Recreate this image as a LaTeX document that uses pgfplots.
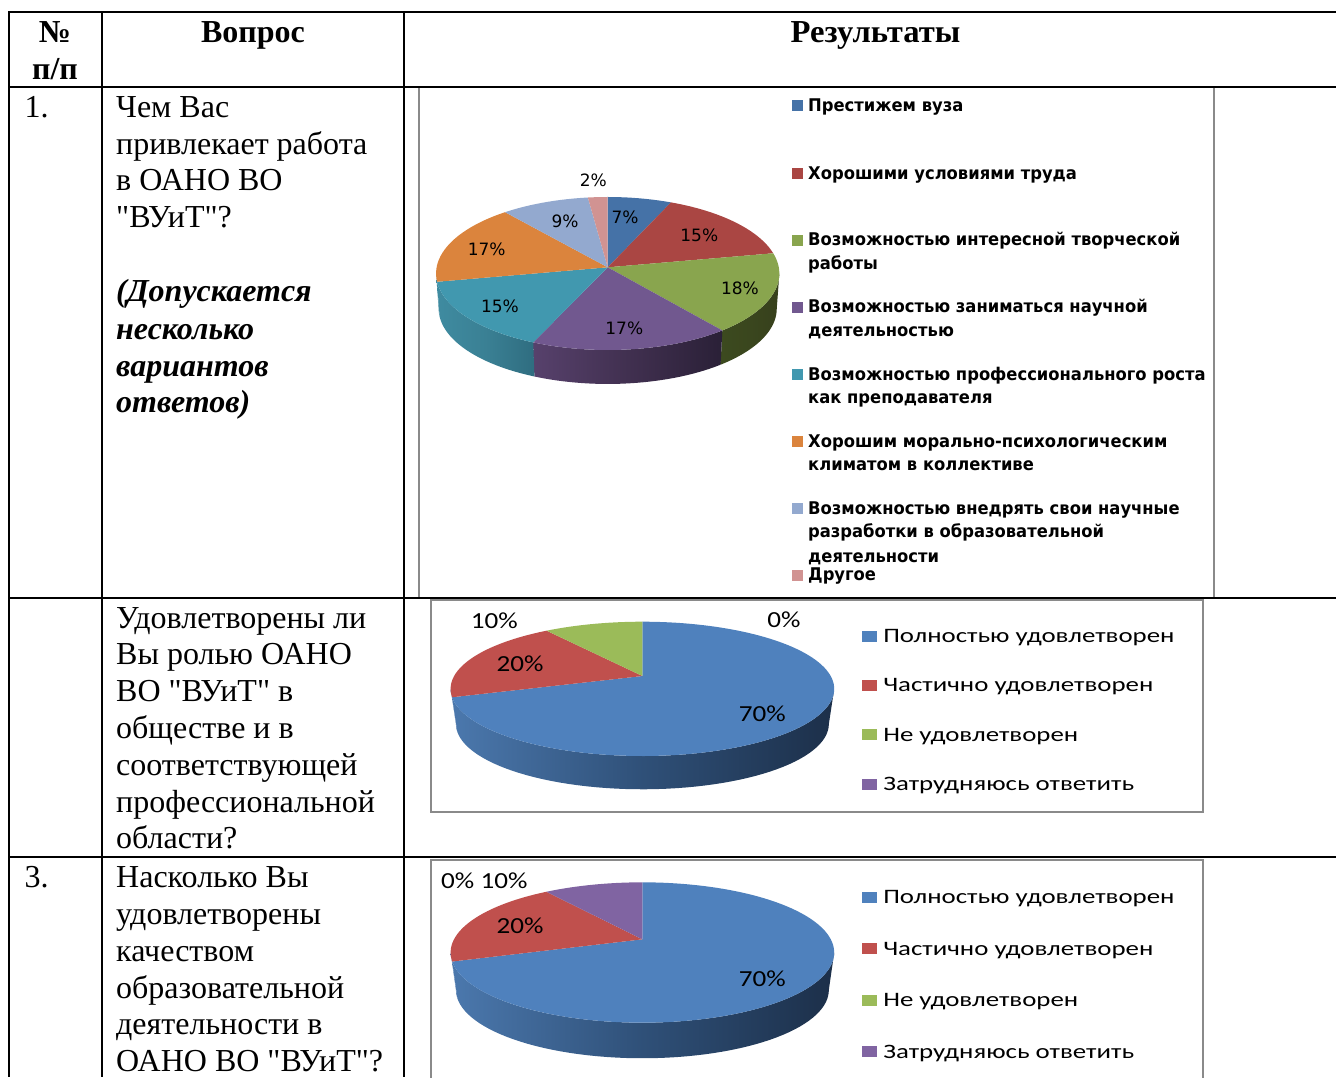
\documentclass[border=0pt]{standalone}
\usepackage{fontspec}
\usepackage{pgfplots}
\pgfplotsset{compat=1.18}
\setmainfont{Liberation Serif}[Ligatures=TeXOff]
\newfontfamily\lgA{DejaVu Sans}
\newfontfamily\lgB{Carlito}
% colours
\definecolor{a1}{HTML}{4572A7}\definecolor{a2}{HTML}{AA4643}\definecolor{a3}{HTML}{89A54E}
\definecolor{a4}{HTML}{71588F}\definecolor{a5}{HTML}{4198AF}\definecolor{a6}{HTML}{DB843D}
\definecolor{a7}{HTML}{93A9CF}\definecolor{a8}{HTML}{D19392}
\definecolor{b1}{HTML}{4F81BD}\definecolor{b2}{HTML}{C0504D}\definecolor{b3}{HTML}{9BBB59}\definecolor{b4}{HTML}{8064A2}
\definecolor{wgL}{HTML}{3C4A1F}\definecolor{wgM}{HTML}{3A461E}\definecolor{wgR}{HTML}{37401C}
\definecolor{wpL}{HTML}{57416C}\definecolor{wpM}{HTML}{413050}\definecolor{wpR}{HTML}{2A2037}
\definecolor{wtL}{HTML}{3F8BA0}\definecolor{wtM}{HTML}{3A8094}\definecolor{wtR}{HTML}{2F6D80}
\definecolor{wbL}{HTML}{4B78AD}\definecolor{wbM}{HTML}{2F5078}\definecolor{wbR}{HTML}{1C2F49}
\definecolor{frameg}{HTML}{8A8A8A}
% pie geometry: a flat disc in perspective, then the data decide the sectors
\newcommand\pieset[7]{\gdef\pcx{#1}\gdef\pcy{#2}\gdef\pa{#3}\gdef\pb{#4}\gdef\pk{#5}\gdef\pd{#6}\gdef\ps{#7}}
\newcommand\rimxy[1]{%
  \pgfmathsetmacro\PTh{(#1)*3.6}%
  \pgfmathsetmacro\PW{1+\pk*cos(\PTh)}%
  \pgfmathsetmacro\PDx{\pb*sin(\PTh)/\PW}%
  \pgfmathsetmacro\PDy{-\pa*cos(\PTh)/\PW}%
}
\newcommand\pieface[3]{%
  \xdef\clist{(\pcx,\pcy)}%
  \pgfmathtruncatemacro\PN{max(1,ceil(((#3)-(#2))/0.7))}%
  \foreach \ii in {0,...,\PN}{%
    \pgfmathsetmacro\PP{(#2)+((#3)-(#2))*\ii/\PN}%
    \rimxy{\PP}%
    \pgfmathsetmacro\PX{\pcx+\PDx}\pgfmathsetmacro\PY{\pcy+\PDy}%
    \xdef\clist{\clist (\PX,\PY)}%
  }%
  \edef\tmp{\noexpand\addplot[fill=#1,draw=none,forget plot,mark=none,sharp plot] coordinates {\clist};}\tmp
}
\newcommand\piewall[5]{%
  \pgfmathsetmacro\PLo{max(#4,acos(-\pk)/3.6)}%
  \pgfmathsetmacro\PHi{min(#5,100-acos(-\pk)/3.6)}%
  \pgfmathtruncatemacro\POk{\PLo<\PHi ? 1 : 0}%
  \ifnum\POk=1
    \xdef\clist{}%
    \pgfmathtruncatemacro\PN{max(1,ceil((\PHi-\PLo)/0.7))}%
    \foreach \ii in {0,...,\PN}{%
      \pgfmathsetmacro\PP{\PLo+(\PHi-\PLo)*\ii/\PN}%
      \rimxy{\PP}%
      \pgfmathsetmacro\PX{\pcx+\PDx}\pgfmathsetmacro\PY{\pcy+\PDy}%
      \xdef\clist{\clist (\PX,\PY)}%
    }%
    \foreach \ii in {\PN,...,0}{%
      \pgfmathsetmacro\PP{\PLo+(\PHi-\PLo)*\ii/\PN}%
      \rimxy{\PP}%
      \pgfmathsetmacro\PX{\pcx+\ps*\PDx}\pgfmathsetmacro\PY{\pcy+\pd+\ps*\PDy}%
      \xdef\clist{\clist (\PX,\PY)}%
    }%
    \edef\tmp{\noexpand\addplot[left color=#1,right color=#3,middle color=#2,draw=none,forget plot,mark=none,sharp plot] coordinates {\clist};}\tmp
  \fi
}
% list items: share / face colour / wall colours left, middle, right
\newcommand\drawpie[1]{%
  \gdef\cum{0}%
  \foreach \Va/\Fc/\Wa/\Wb/\Wc in {#1}{%
    \pgfmathsetmacro\nxt{\cum+\Va}%
    \piewall{\Wa}{\Wb}{\Wc}{\cum}{\nxt}%
    \xdef\cum{\nxt}%
  }%
  \gdef\cum{0}%
  \foreach \Va/\Fc/\Wa/\Wb/\Wc in {#1}{%
    \pgfmathsetmacro\nxt{\cum+\Va}%
    \pgfmathtruncatemacro\POs{\Va>0 ? 1 : 0}%
    \ifnum\POs=1 \pieface{\Fc}{\cum}{\nxt}\fi
    \xdef\cum{\nxt}%
  }%
}
\tikzset{
  body/.style={anchor=base west,inner sep=0pt,font=\fontsize{32}{37}\selectfont},
  bodyi/.style={anchor=base west,inner sep=0pt,font=\fontsize{32}{37}\selectfont\bfseries\itshape},
  head/.style={anchor=base,inner sep=0pt,font=\fontsize{32}{37}\selectfont\bfseries},
  leg1/.style={anchor=base west,inner sep=0pt,xscale=0.935,font=\lgA\bfseries\fontsize{17.5}{20}\selectfont},
  leg2/.style={anchor=base west,inner sep=0pt,xscale=1.31,font=\lgB\fontsize{20.5}{24}\selectfont},
  lab1/.style={anchor=center,inner sep=0pt,font=\lgA\fontsize{17}{20}\selectfont},
  lab2/.style={anchor=center,inner sep=0pt,xscale=1.18,font=\lgB\fontsize{23}{26}\selectfont},
}
\newcommand\lm[3]{\addplot[fill=#3,draw=none,forget plot,mark=none] coordinates {(#1,#2-5.5) (#1+11.5,#2-5.5) (#1+11.5,#2+5.5) (#1,#2+5.5)};}
\newcommand\lmb[3]{\addplot[fill=#3,draw=none,forget plot,mark=none] coordinates {(#1,#2-5.5) (#1+14.5,#2-5.5) (#1+14.5,#2+5.5) (#1,#2+5.5)};}
\begin{document}
\begin{tikzpicture}
\useasboundingbox (0,0) rectangle (1336pt,1077pt);
\begin{axis}[
  at={(0,0)},anchor=south west,
  scale only axis,width=1336pt,height=1077pt,
  xmin=0,xmax=1336,ymin=0,ymax=1077,y dir=reverse,
  axis lines=none,ticks=none,clip=true]
% chart frames
\draw[frameg,line width=2pt] (axis cs:419,87)--(axis cs:419,598);
\draw[frameg,line width=2pt] (axis cs:1214,87)--(axis cs:1214,598);
\draw[frameg,line width=2pt] (axis cs:430.5,600)--(axis cs:1203,600)--(axis cs:1203,811.5)--(axis cs:430.5,811.5)--cycle;
\draw[frameg,line width=2pt] (axis cs:430.5,1080)--(axis cs:430.5,859.5)--(axis cs:1203,859.5)--(axis cs:1203,1080);
% pie 1
\pieset{607.7}{267.3}{76}{171.1}{0.0809}{35.2}{0.985}
\drawpie{6.5/a1/a1/a1/a1,15.5/a2/a2/a2/a2,17.2/a3/wgL/wgM/wgR,17.4/a4/wpL/wpM/wpR,15.4/a5/wtL/wtM/wtR,17/a6/wtL/wtL/wtL,9/a7/a7/a7/a7,2/a8/a8/a8/a8}
% pie 2
\pieset{642.4}{676}{64.7}{188.3}{0.1913}{35.5}{0.972}
\drawpie{70/b1/wbL/wbM/wbR,20/b2/wbL/wbL/wbL,10/b3/b3/b3/b3,0/b4/b4/b4/b4}
% pie 3
\pieset{642.4}{939.3}{67.7}{188.4}{0.188}{37.9}{0.972}
\drawpie{70/b1/wbL/wbM/wbR,20/b2/wbL/wbL/wbL,0/b3/b3/b3/b3,10/b4/b4/b4/b4}
% pie labels
\node[lab1] at (axis cs:625,217.7) {7\%};
\node[lab1] at (axis cs:699.3,235) {15\%};
\node[lab1] at (axis cs:740,288.3) {18\%};
\node[lab1] at (axis cs:624.3,328.3) {17\%};
\node[lab1] at (axis cs:500,306.7) {15\%};
\node[lab1] at (axis cs:486.7,249.3) {17\%};
\node[lab1] at (axis cs:565,221.7) {9\%};
\node[lab1] at (axis cs:593.3,180.7) {2\%};
\node[lab2] at (axis cs:762.3,714) {70\%};
\node[lab2] at (axis cs:520,663.5) {20\%};
\node[lab2] at (axis cs:494.3,620.7) {10\%};
\node[lab2] at (axis cs:784,620) {0\%};
\node[lab2] at (axis cs:762.3,979) {70\%};
\node[lab2] at (axis cs:520,926) {20\%};
\node[lab2] at (axis cs:484.3,881) {0\% 10\%};
% legend 1
\lm{791.7}{105.7}{a1}\lm{791.7}{173}{a2}\lm{791.7}{240}{a3}\lm{791.7}{307}{a4}
\lm{791.7}{374}{a5}\lm{791.7}{441}{a6}\lm{791.7}{508}{a7}\lm{791.7}{575}{a8}
\node[leg1] at (axis cs:808,111.7) {Престижем вуза};
\node[leg1] at (axis cs:808,179) {Хорошими условиями труда};
\node[leg1] at (axis cs:808,245.7) {Возможностью интересной творческой};
\node[leg1] at (axis cs:808,269.5) {работы};
\node[leg1] at (axis cs:808,312.3) {Возможностью заниматься научной};
\node[leg1] at (axis cs:808,336.5) {деятельностью};
\node[leg1] at (axis cs:808,380) {Возможностью профессионального роста};
\node[leg1] at (axis cs:808,403.3) {как преподавателя};
\node[leg1] at (axis cs:808,447.3) {Хорошим морально-психологическим};
\node[leg1] at (axis cs:808,470.7) {климатом в коллективе};
\node[leg1] at (axis cs:808,514) {Возможностью внедрять свои научные};
\node[leg1] at (axis cs:808,537) {разработки в образовательной};
\node[leg1] at (axis cs:808,562.5) {деятельности};
\node[leg1] at (axis cs:808,580.7) {Другое};
% legend 2
\lmb{862.3}{636}{b1}\lmb{862.3}{685}{b2}\lmb{862.3}{734.6}{b3}\lmb{862.3}{784}{b4}
\node[leg2] at (axis cs:883,642.7) {Полностью удовлетворен};
\node[leg2] at (axis cs:883,691.7) {Частично удовлетворен};
\node[leg2] at (axis cs:883,741) {Не удовлетворен};
\node[leg2] at (axis cs:883,790) {Затрудняюсь ответить};
% legend 3
\lmb{862.3}{897}{b1}\lmb{862.3}{948}{b2}\lmb{862.3}{1000}{b3}\lmb{862.3}{1051}{b4}
\node[leg2] at (axis cs:883,903.7) {Полностью удовлетворен};
\node[leg2] at (axis cs:883,955) {Частично удовлетворен};
\node[leg2] at (axis cs:883,1006.5) {Не удовлетворен};
\node[leg2] at (axis cs:883,1058) {Затрудняюсь ответить};
% table rules
\draw[black,line width=2pt] (axis cs:8,12)--(axis cs:1336,12);
\draw[black,line width=2pt] (axis cs:8,87)--(axis cs:1336,87);
\draw[black,line width=2pt] (axis cs:8,598)--(axis cs:1336,598);
\draw[black,line width=2pt] (axis cs:8,857)--(axis cs:1336,857);
\draw[black,line width=2pt] (axis cs:9,12)--(axis cs:9,1077);
\draw[black,line width=2pt] (axis cs:102,12)--(axis cs:102,1077);
\draw[black,line width=2pt] (axis cs:404,12)--(axis cs:404,1077);
% table text
\node[head] at (axis cs:55,42) {№};
\node[head] at (axis cs:55,79) {п/п};
\node[head] at (axis cs:253,42) {Вопрос};
\node[head,xscale=1.02] at (axis cs:875.5,42) {Результаты};
\node[body] at (axis cs:24.5,117) {1.};
\node[body] at (axis cs:116,117) {Чем Вас};
\node[body] at (axis cs:116,154) {привлекает работа};
\node[body] at (axis cs:116,190.5) {в ОАНО ВО};
\node[body] at (axis cs:116,227.5) {"ВУиТ"?};
\node[bodyi] at (axis cs:116,301.5) {(Допускается};
\node[bodyi] at (axis cs:116,339) {несколько};
\node[bodyi] at (axis cs:116,376) {вариантов};
\node[bodyi] at (axis cs:116,412.5) {ответов)};
\node[body] at (axis cs:116,628.5) {Удовлетворены ли};
\node[body] at (axis cs:116,664.5) {Вы ролью ОАНО};
\node[body] at (axis cs:116,701.5) {ВО "ВУиТ" в};
\node[body] at (axis cs:116,738.5) {обществе и в};
\node[body] at (axis cs:116,775) {соответствующей};
\node[body] at (axis cs:116,812) {профессиональной};
\node[body] at (axis cs:116,848.5) {области?};
\node[body] at (axis cs:24.5,887.5) {3.};
\node[body] at (axis cs:116,887.5) {Насколько Вы};
\node[body] at (axis cs:116,924.5) {удовлетворены};
\node[body] at (axis cs:116,961) {качеством};
\node[body] at (axis cs:116,998) {образовательной};
\node[body] at (axis cs:116,1034.5) {деятельности в};
\node[body] at (axis cs:116,1071.5) {ОАНО ВО "ВУиТ"?};
\end{axis}
\end{tikzpicture}
\end{document}
